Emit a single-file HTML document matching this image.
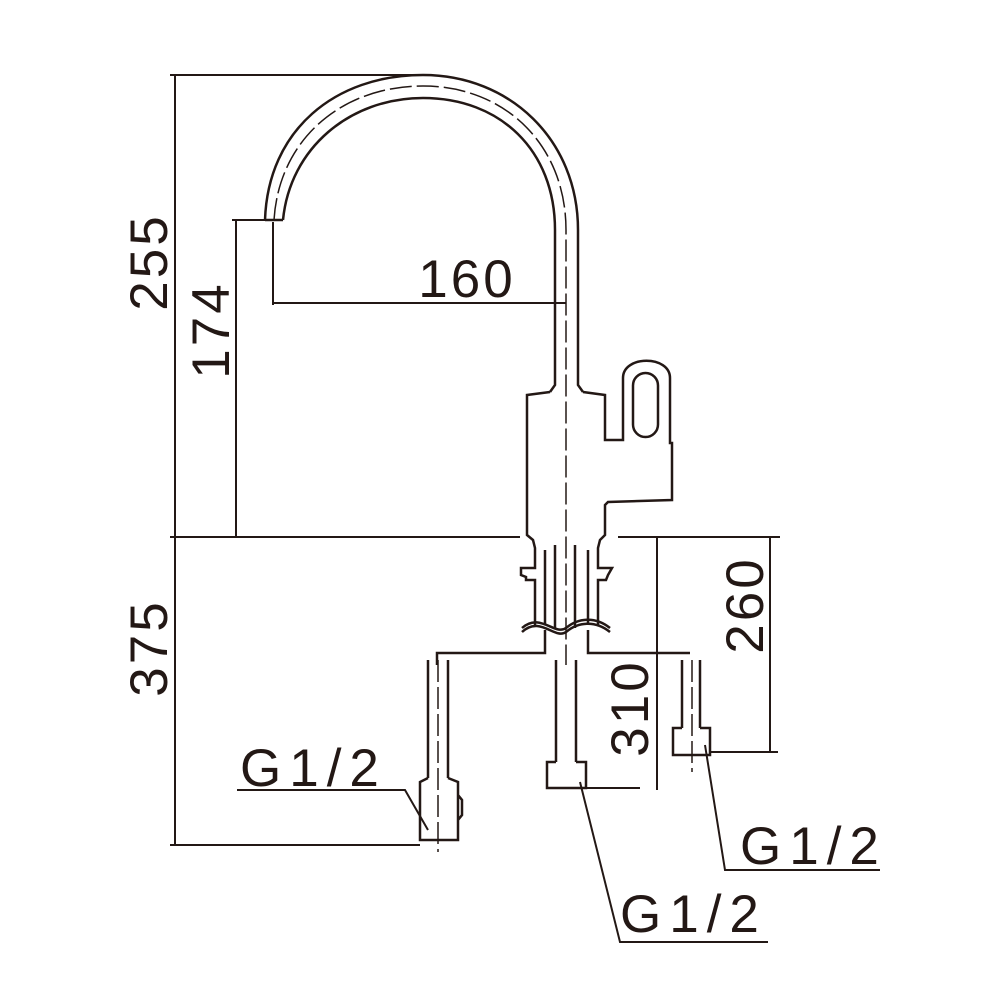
<!DOCTYPE html>
<html><head><style>html,body{margin:0;padding:0;background:#fff}svg{display:block}
text{font-family:"Liberation Sans",sans-serif;font-size:53px;fill:#231815;letter-spacing:3px}
.g{letter-spacing:8px}</style></head>
<body>
<svg width="1000" height="1000" viewBox="0 0 1000 1000" xmlns="http://www.w3.org/2000/svg">
<g fill="none" stroke="#231815" stroke-width="2.5">
<path d="M265,220 C268,130 335,75 423,75 C510,75 578,140 578,230 L578,385 L583,392"/>
<path d="M283,220 C290,148 350,98 423,98 C500,98 555,150 555,230 L555,385 L550,392"/>
<path d="M274,220 C279,139 342,86 423,86 C505,86 566,145 566,230 L566,665" stroke-width="1.5" stroke-dasharray="22,5"/>
<line x1="265" y1="220" x2="283" y2="220"/>
<path d="M550,392 L527,395 L527,535 L533,540 L535,548 L535,568 L521,568 L521,575 L526,577 L526,580 L535,580 L535,625"/>
<path d="M583,392 L605,395 L605,440 L623,440 L623,378 C623,355 670,355 670,378 L670,443 L672,443 L672,500 L608,502 L605,505 L605,535 L600,540 L598,548 L598,568 L612,568 L608,575 L606,580 L598,580 L598,625"/>
<rect x="633" y="373" width="25" height="64" rx="12.5"/>
<line x1="545" y1="550" x2="545" y2="625"/><line x1="555" y1="545" x2="555" y2="628"/>
<line x1="575" y1="545" x2="575" y2="628"/><line x1="588" y1="550" x2="588" y2="625"/>
<path d="M522,632 C540,615 555,640 566,632 C578,622 595,620 610,632"/>
<path d="M522,628 C540,612 555,636 566,628 C578,618 595,616 610,628"/>
<path d="M545,630 L545,653 L437,653 L437,665"/>
<path d="M588,630 L588,653 L690,653"/>
<line x1="428" y1="660" x2="428" y2="778"/><line x1="448" y1="660" x2="448" y2="778"/>
<path d="M428,778 L420,782 L420,840 L458,840 L458,782 L448,778 M458,795 L462,800 L462,815 L458,820"/>
<line x1="438" y1="660" x2="438" y2="852" stroke-width="1.5" stroke-dasharray="22,5"/>
<line x1="556" y1="660" x2="556" y2="762"/><line x1="576" y1="660" x2="576" y2="762"/>
<path d="M556,762 L547,762 L547,788 L586,788 L586,762 L576,762"/>
<line x1="682" y1="660" x2="682" y2="728"/><line x1="700" y1="660" x2="700" y2="728"/>
<path d="M682,728 L673,728 L673,755 L710,755 L710,728 L700,728"/>
<line x1="692" y1="660" x2="692" y2="772" stroke-width="1.5" stroke-dasharray="22,5"/>
<g stroke-width="2">
<line x1="170" y1="75" x2="423" y2="75"/>
<line x1="175" y1="75" x2="175" y2="845"/>
<line x1="170" y1="537" x2="520" y2="537"/><line x1="618" y1="537" x2="780" y2="537"/>
<line x1="170" y1="845" x2="420" y2="845"/>
<line x1="232" y1="220" x2="265" y2="220"/><line x1="236" y1="220" x2="236" y2="537"/>
<line x1="273" y1="222" x2="273" y2="305"/><line x1="273" y1="303" x2="566" y2="303"/>
<line x1="657" y1="537" x2="657" y2="790"/><line x1="586" y1="788" x2="640" y2="788"/>
<line x1="770" y1="537" x2="770" y2="752"/><line x1="710" y1="752" x2="778" y2="752"/>
<path d="M237,790 L405,790 L428,830"/>
<path d="M768,942 L620,942 L580,782"/>
<path d="M880,870 L725,870 L705,745"/>
</g>
</g>
<text transform="translate(167,262) rotate(-90)" text-anchor="middle">255</text>
<text transform="translate(229,330) rotate(-90)" text-anchor="middle">174</text>
<text transform="translate(167,648) rotate(-90)" text-anchor="middle">375</text>
<text transform="translate(648,708) rotate(-90)" text-anchor="middle">310</text>
<text transform="translate(763,605) rotate(-90)" text-anchor="middle">260</text>
<text x="467" y="297" text-anchor="middle">160</text>
<text class="g" x="240" y="786">G1/2</text>
<text class="g" x="620" y="932">G1/2</text>
<text class="g" x="740" y="864">G1/2</text>
</svg>
</body></html>
